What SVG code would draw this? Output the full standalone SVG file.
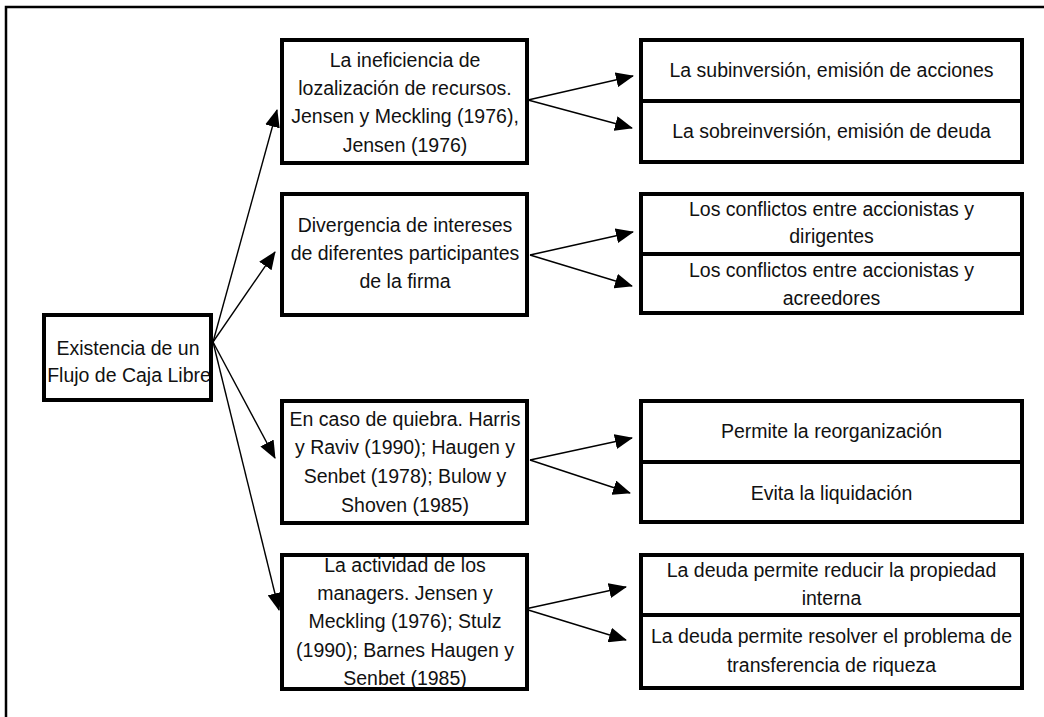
<svg xmlns="http://www.w3.org/2000/svg" width="1044" height="717" viewBox="0 0 1044 717">
  <defs>
    <style>
      .box { fill: none; stroke: #000; stroke-width: 4; }
      .bg { fill: #fff; }
      .frame { fill: none; stroke: #000; stroke-width: 2.5; }
      .lbl { font-family: "Liberation Sans", Arial, sans-serif; font-size: 19.5px; fill: #111; text-anchor: middle; }
      .edge { stroke: #000; stroke-width: 1.4; fill: none; marker-end: url(#head); }
    </style>
    <marker id="head" viewBox="0 0 18 15" refX="17" refY="7.5" markerWidth="18" markerHeight="15" markerUnits="userSpaceOnUse" orient="auto">
      <path d="M0,0 L18,7.5 L0,15 z" fill="#000"/>
    </marker>
  </defs>

  <rect width="1044" height="717" fill="#fff"/>
  <!-- page frame: top and left rules only -->
  <path class="frame" d="M6,717 V7 H1044"/>

  <!-- connectors -->
  <g id="connectors">
    <line class="edge" x1="213" y1="342" x2="277" y2="110"/>
    <line class="edge" x1="213" y1="342" x2="275" y2="252"/>
    <line class="edge" x1="213" y1="342" x2="275" y2="458"/>
    <line class="edge" x1="213" y1="342" x2="279" y2="610"/>

    <line class="edge" x1="528" y1="100" x2="633" y2="76"/>
    <line class="edge" x1="528" y1="100" x2="632" y2="128"/>
    <line class="edge" x1="530" y1="255" x2="633" y2="232"/>
    <line class="edge" x1="530" y1="255" x2="632" y2="286"/>
    <line class="edge" x1="530" y1="460" x2="632" y2="438"/>
    <line class="edge" x1="530" y1="460" x2="630" y2="493"/>
    <line class="edge" x1="525" y1="609" x2="626" y2="587"/>
    <line class="edge" x1="525" y1="609" x2="626" y2="640"/>
  </g>

  <!-- root -->
  <g id="flujo-caja-libre">
    <rect class="bg" x="44" y="315" width="167" height="85"/>
    <text class="lbl" x="128" y="355">Existencia de un</text>
    <text class="lbl" x="129" y="382">Flujo de Caja Libre</text>
    <rect class="box" x="44" y="315" width="167" height="85"/>
  </g>

  <!-- second level -->
  <g id="ineficiencia">
    <rect class="bg" x="282" y="40" width="245" height="123"/>
    <text class="lbl" x="405" y="67">La ineficiencia de</text>
    <text class="lbl" x="405" y="95">lozalización de recursos.</text>
    <text class="lbl" x="405" y="123">Jensen y Meckling (1976),</text>
    <text class="lbl" x="405" y="151.5">Jensen (1976)</text>
    <rect class="box" x="282" y="40" width="245" height="123"/>
  </g>

  <g id="divergencia">
    <rect class="bg" x="282" y="194" width="245" height="121"/>
    <text class="lbl" x="405" y="232">Divergencia de intereses</text>
    <text class="lbl" x="405" y="260">de diferentes participantes</text>
    <text class="lbl" x="405" y="288">de la firma</text>
    <rect class="box" x="282" y="194" width="245" height="121"/>
  </g>

  <g id="quiebra">
    <rect class="bg" x="282" y="401" width="245" height="122"/>
    <text class="lbl" x="405" y="426">En caso de quiebra. Harris</text>
    <text class="lbl" x="405" y="454">y Raviv (1990); Haugen y</text>
    <text class="lbl" x="405" y="482.5">Senbet (1978); Bulow y</text>
    <text class="lbl" x="405" y="511.5">Shoven (1985)</text>
    <rect class="box" x="282" y="401" width="245" height="122"/>
  </g>

  <g id="managers">
    <rect class="bg" x="282" y="555" width="245" height="134"/>
    <text class="lbl" x="405" y="571.5">La actividad de los</text>
    <text class="lbl" x="405" y="600">managers. Jensen y</text>
    <text class="lbl" x="405" y="628">Meckling (1976); Stulz</text>
    <text class="lbl" x="405" y="656.5">(1990); Barnes Haugen y</text>
    <text class="lbl" x="405" y="685">Senbet (1985)</text>
    <rect class="box" x="282" y="555" width="245" height="134"/>
  </g>

  <!-- third level -->
  <g id="subinversion">
    <rect class="bg" x="641" y="40" width="381" height="61"/>
    <text class="lbl" x="831.5" y="76.5">La subinversión, emisión de acciones</text>
    <rect class="box" x="641" y="40" width="381" height="61"/>
  </g>
  <g id="sobreinversion">
    <rect class="bg" x="641" y="101" width="381" height="61"/>
    <text class="lbl" x="831.5" y="138">La sobreinversión, emisión de deuda</text>
    <rect class="box" x="641" y="101" width="381" height="61"/>
  </g>

  <g id="conflictos-dirigentes">
    <rect class="bg" x="641" y="194" width="381" height="60"/>
    <text class="lbl" x="831.5" y="216">Los conflictos entre accionistas y</text>
    <text class="lbl" x="831.5" y="243">dirigentes</text>
    <rect class="box" x="641" y="194" width="381" height="60"/>
  </g>
  <g id="conflictos-acreedores">
    <rect class="bg" x="641" y="254" width="381" height="59"/>
    <text class="lbl" x="831.5" y="277">Los conflictos entre accionistas y</text>
    <text class="lbl" x="831.5" y="305">acreedores</text>
    <rect class="box" x="641" y="254" width="381" height="59"/>
  </g>

  <g id="reorganizacion">
    <rect class="bg" x="641" y="401" width="381" height="61"/>
    <text class="lbl" x="831.5" y="438">Permite la reorganización</text>
    <rect class="box" x="641" y="401" width="381" height="61"/>
  </g>
  <g id="liquidacion">
    <rect class="bg" x="641" y="462" width="381" height="60"/>
    <text class="lbl" x="831.5" y="500">Evita la liquidación</text>
    <rect class="box" x="641" y="462" width="381" height="60"/>
  </g>

  <g id="propiedad-interna">
    <rect class="bg" x="641" y="555" width="381" height="60"/>
    <text class="lbl" x="831.5" y="576.5">La deuda permite reducir la propiedad</text>
    <text class="lbl" x="831.5" y="605">interna</text>
    <rect class="box" x="641" y="555" width="381" height="60"/>
  </g>
  <g id="transferencia-riqueza">
    <rect class="bg" x="641" y="615" width="381" height="73"/>
    <text class="lbl" x="831.5" y="643">La deuda permite resolver el problema de</text>
    <text class="lbl" x="831.5" y="671.5">transferencia de riqueza</text>
    <rect class="box" x="641" y="615" width="381" height="73"/>
  </g>
</svg>
